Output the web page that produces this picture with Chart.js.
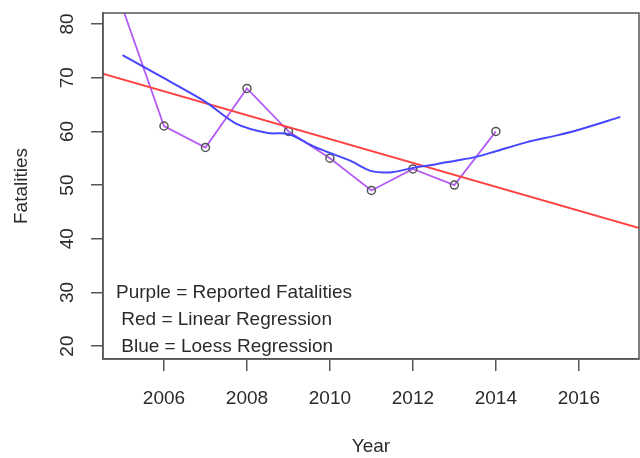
<!DOCTYPE html>
<html>
<head>
<meta charset="utf-8">
<title>Fatalities</title>
<script src="https://cdn.jsdelivr.net/npm/chart.js@4"></script>
<style>
  html, body { margin: 0; padding: 0; background: #fff; }
  canvas { display: block; }
</style>
</head>
<body>
<canvas id="fatalChart" width="640" height="458"></canvas>
<script>
//reported fatalities per year
const years = [2005, 2006, 2007, 2008, 2009, 2010, 2011, 2012, 2013, 2014];
const fatalities = [83, 61, 57, 68, 60, 55, 49, 53, 50, 60];
//linear regression line, read at both ends of the plot
const linYears = [2004.5, 2017.5];
const linValues = [70.8, 41.9];
//loess curve
const loessYears = [2005, 2006, 2007, 2007.75, 2008.5, 2009, 2009.6, 2010, 2010.5, 2011, 2011.5, 2012, 2012.5, 2013, 2013.5, 2014, 2014.75, 2015.5, 2016, 2017];
const loessValues = [74.2, 69.9, 65.5, 61.4, 59.7, 59.5, 57.2, 56.0, 54.5, 52.6, 52.4, 53.2, 53.8, 54.5, 55.2, 56.3, 58.0, 59.3, 60.3, 62.7];
//axis ticks
const xTicks = [2006, 2008, 2010, 2012, 2014, 2016];
const yTicks = [20, 30, 40, 50, 60, 70, 80];
//notes written inside the plot
const notes = ["Purple = Reported Fatalities", " Red = Linear Regression", " Blue = Loess Regression"];

const pts = (xs, ys) => xs.map((x, i) => ({ x: x, y: ys[i] }));
const txt = "#2b2b2b";
const fontFam = "'Liberation Sans', Arial, sans-serif";

//full box around the plot + notes
const boxPlugin = {
  id: "boxNotes",
  afterDraw(c) {
    const a = c.chartArea;
    const g = c.ctx;
    g.save();
    g.strokeStyle = "#555";
    g.lineWidth = 1.5;
    g.strokeRect(a.left, a.top, a.right - a.left, a.bottom - a.top);
    g.fillStyle = txt;
    g.font = "19px " + fontFam;
    g.textBaseline = "middle";
    g.textAlign = "left";
    notes.forEach((n, i) => {
      g.fillText(n, a.left + 13, a.bottom - 66 + i * 27);
    });
    g.restore();
  }
};

const ctx = document.getElementById("fatalChart").getContext("2d");
new Chart(ctx, {
  type: "line",
  data: {
    datasets: [
      {
        label: "Loess",
        data: pts(loessYears, loessValues),
        borderColor: "#4646ff",
        borderWidth: 2,
        pointRadius: 0,
        tension: 0.3
      },
      {
        label: "Linear",
        data: pts(linYears, linValues),
        borderColor: "#ff4040",
        borderWidth: 2,
        pointRadius: 0
      },
      {
        label: "Reported",
        data: pts(years, fatalities),
        borderColor: "#b45cf5",
        borderWidth: 1.8,
        pointRadius: 4,
        pointBorderWidth: 1.5,
        pointBorderColor: "#555",
        pointBackgroundColor: "rgba(0,0,0,0)",
        tension: 0
      }
    ]
  },
  options: {
    responsive: false,
    animation: false,
    devicePixelRatio: 1,
    layout: { autoPadding: false, padding: { top: 13, right: 1, left: 0, bottom: 0 } },
    plugins: { legend: { display: false }, tooltip: { enabled: false } },
    scales: {
      x: {
        type: "linear",
        min: 2004.53,
        max: 2017.45,
        afterBuildTicks: s => { s.ticks = xTicks.map(v => ({ value: v })); },
        afterFit: s => { s.height = 99; s.paddingLeft = 0; s.paddingRight = 0; },
        grid: { drawOnChartArea: false, drawTicks: true, tickLength: 12, color: "#555", lineWidth: 1.5 },
        border: { display: true, color: "#555", width: 1.5 },
        ticks: { color: txt, font: { size: 19, family: fontFam }, padding: 16, maxRotation: 0, callback: v => String(v) },
        title: { display: true, text: "Year", color: txt, font: { size: 19, family: fontFam }, padding: { bottom: 0 } }
      },
      y: {
        min: 17.6,
        max: 82.05,
        afterBuildTicks: s => { s.ticks = yTicks.map(v => ({ value: v })); },
        afterFit: s => { s.width = 103; s.paddingTop = 0; s.paddingBottom = 0; },
        grid: { drawOnChartArea: false, drawTicks: true, tickLength: 12, color: "#555", lineWidth: 1.5 },
        border: { display: true, color: "#555", width: 1.5 },
        ticks: { color: txt, font: { size: 19, family: fontFam }, padding: 13, minRotation: 90, maxRotation: 90, crossAlign: "center" },
        title: { display: true, text: "Fatalities", color: txt, font: { size: 19, family: fontFam }, padding: { top: 10 } }
      }
    }
  },
  plugins: [boxPlugin]
});
</script>
</body>
</html>
